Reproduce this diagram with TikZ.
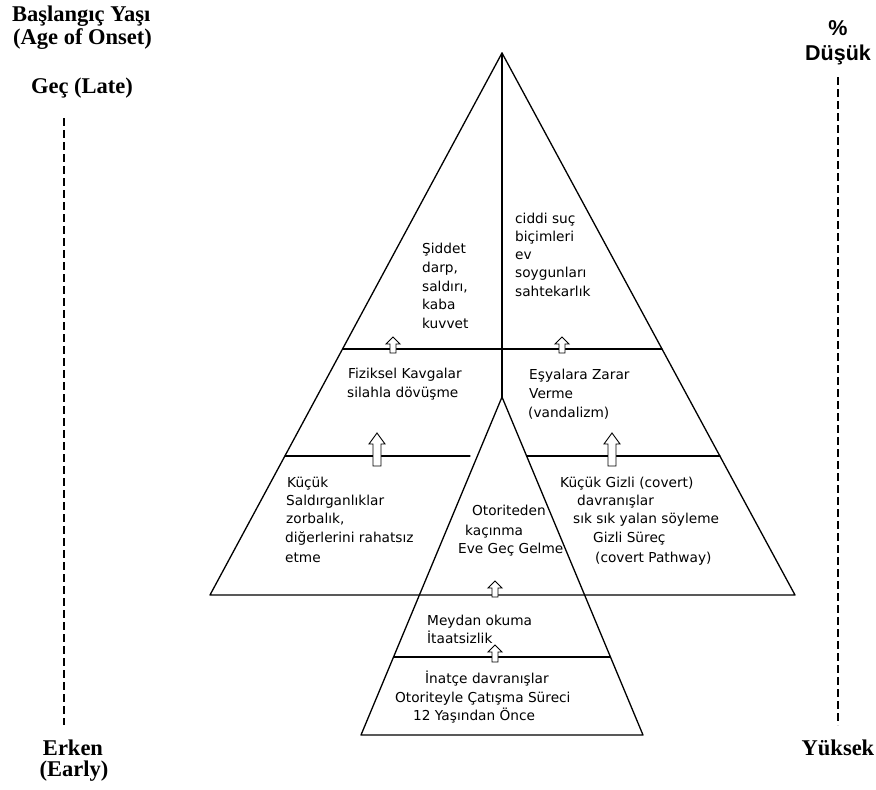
\documentclass[tikz,border=0pt]{standalone}
\usepackage{fontspec}
\newfontfamily\dvsans{DejaVu Sans}
\newfontfamily\libserif{Liberation Serif}
\newfontfamily\libsans{Liberation Sans}
\tikzset{
  edge/.style={line width=1.3pt, line cap=round, line join=round},
  dashln/.style={line width=1.1pt, dash pattern=on 8pt off 4pt},
  txt/.style={anchor=base west, inner sep=0pt, font=\dvsans\fontsize{13.7}{16}\selectfont},
  hd/.style={anchor=base, inner sep=0pt, font=\libserif\bfseries\fontsize{22.5}{24}\selectfont},
  hdw/.style={hd, anchor=base west},
  hdsans/.style={anchor=base, inner sep=0pt, font=\libsans\bfseries\fontsize{21.5}{24}\selectfont},
  arrbox/.style={draw=black, fill=white, line width=0.9pt, line join=miter},
  pics/uparr/.style n args={4}{code={
    \draw[arrbox] (0,0) -- ({#3/2},#2) -- ({#4/2},#2) -- ({#4/2},#1) -- ({-#4/2},#1) -- ({-#4/2},#2) -- ({-#3/2},#2) -- cycle;}}
}
\begin{document}
\begin{tikzpicture}[x=1pt,y=-1pt]
\fill[white] (0,0) rectangle (876,790);
\useasboundingbox (0,0) rectangle (876,790);

% key points
\coordinate (apex) at (502,53);
\coordinate (bl) at (210,595);
\coordinate (br) at (795,595);
\coordinate (iapex) at (502,397);
\coordinate (ibl) at (361,735);
\coordinate (ibr) at (643,735);
\coordinate (l1a) at (342.5,349);
\coordinate (l1b) at (662,349);
\coordinate (l2a) at (285,456);
\coordinate (l2b) at (470,456);
\coordinate (l2c) at (526.6,456);
\coordinate (l2d) at (720,456);
\coordinate (l3a) at (393.5,657);
\coordinate (l3b) at (610.5,657);

% pyramids
\draw[edge] (bl) -- (apex) -- (br) -- cycle;
\draw[edge] (apex) -- (iapex);
\draw[edge] (ibl) -- (iapex) -- (ibr) -- cycle;
\draw[edge] (l1a) -- (l1b);
\draw[edge] (l2a) -- (l2b);
\draw[edge] (l2c) -- (l2d);
\draw[edge] (l3a) -- (l3b);

% dashed axes
\coordinate (dl1) at (64,118);
\coordinate (dl2) at (64,725);
\coordinate (dr1) at (838,77);
\coordinate (dr2) at (838,725);
\draw[dashln] (dl1) -- (dl2);
\draw[dashln] (dr1) -- (dr2);

% arrows
\pic at (393,337) {uparr={16}{7}{14}{6}};
\pic at (562,337) {uparr={16}{7}{14}{6}};
\pic at (377,433) {uparr={33}{11}{16}{8}};
\pic at (612,433) {uparr={33}{11}{16}{8}};
\pic at (495,581) {uparr={16}{7}{14}{6}};
\pic at (495,645) {uparr={17}{7}{14}{6}};

% headings
\node[hdw] (h1) at (12,21) {Başlangıç Yaşı};
\node[hdw] (h2) at (13,44) {(Age of Onset)};
\node[hd] (h3) at (82,93) {Geç (Late)};
\node[hd] (h4) at (73,755) {Erken};
\node[hd] (h5) at (74,776) {(Early)};
\node[hdsans] (h6) at (838,35) {\%};
\node[hdsans] (h7) at (838,60) {Düşük};
\node[hd] (h8) at (838,755) {Yüksek};

% top left
\node[txt] (a1) at (422,253) {Şiddet};
\node[txt] (a2) at (422,272) {darp,};
\node[txt] (a3) at (422,291) {saldırı,};
\node[txt] (a4) at (422,309) {kaba};
\node[txt] (a5) at (422,328) {kuvvet};
% top right
\node[txt] (b1) at (515,223) {ciddi suç};
\node[txt] (b2) at (515,241) {biçimleri};
\node[txt] (b3) at (515,259) {ev};
\node[txt] (b4) at (515,277) {soygunları};
\node[txt] (b5) at (515,296) {sahtekarlık};
% middle left / right
\node[txt] (c1) at (348,378) {Fiziksel Kavgalar};
\node[txt] (c2) at (347,397) {silahla dövüşme};
\node[txt] (d1) at (529,379) {Eşyalara Zarar};
\node[txt] (d2) at (529,398) {Verme};
\node[txt] (d3) at (528,417) {(vandalizm)};
% lower left
\node[txt] (e1) at (287,487) {Küçük};
\node[txt] (e2) at (286,505) {Saldırganlıklar};
\node[txt] (e3) at (286,523) {zorbalık,};
\node[txt] (e4) at (285,542) {diğerlerini rahatsız};
\node[txt] (e5) at (285,562) {etme};
% inner
\node[txt] (f1) at (472,515) {Otoriteden};
\node[txt] (f2) at (465,535) {kaçınma};
\node[txt] (f3) at (458,553) {Eve Geç Gelme};
% lower right
\node[txt] (g1) at (560,487) {Küçük Gizli (covert)};
\node[txt] (g2) at (577,505) {davranışlar};
\node[txt] (g3) at (573,523) {sık sık yalan söyleme};
\node[txt] (g4) at (593,542) {Gizli Süreç};
\node[txt] (g5) at (595,562) {(covert Pathway)};
% bottom pyramid
\node[txt] (k1) at (427,625) {Meydan okuma};
\node[txt] (k2) at (427,643) {İtaatsizlik};
\node[txt] (m1) at (425,683) {İnatçe davranışlar};
\node[txt] (m2) at (395,702) {Otoriteyle Çatışma Süreci};
\node[txt] (m3) at (413,720) {12 Yaşından Önce};
\end{tikzpicture}
\end{document}
